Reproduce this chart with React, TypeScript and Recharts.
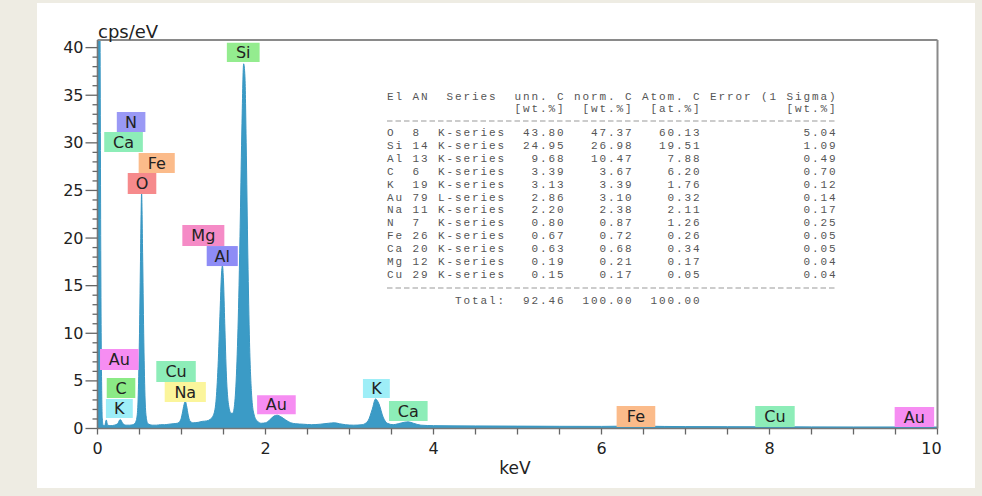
import React from 'react';
import { AreaChart, Area, XAxis, YAxis, ReferenceArea, ReferenceLine } from 'recharts';

// ---- spectrum ----
const energyKeV = [
  0.0, 0.015, 0.03, 0.04, 0.05, 0.058, 0.066, 0.085, 0.105, 0.12, 0.16, 0.2, 0.24, 0.27, 0.3, 0.34,
  0.38, 0.42, 0.45, 0.47, 0.485, 0.5, 0.513, 0.525, 0.537, 0.55, 0.565, 0.58, 0.6, 0.65, 0.7, 0.75,
  0.8, 0.85, 0.9, 0.95, 0.99, 1.01, 1.03, 1.045, 1.06, 1.08, 1.1, 1.14, 1.2, 1.25, 1.3, 1.34,
  1.38, 1.41, 1.435, 1.46, 1.475, 1.487, 1.5, 1.515, 1.535, 1.56, 1.59, 1.61, 1.635, 1.66, 1.685, 1.7,
  1.72, 1.74, 1.755, 1.77, 1.79, 1.81, 1.835, 1.86, 1.9, 1.95, 2.0, 2.05, 2.1, 2.14, 2.18, 2.24,
  2.3, 2.36, 2.45, 2.55, 2.65, 2.75, 2.82, 2.88, 2.95, 3.05, 3.15, 3.22, 3.27, 3.31, 3.35, 3.4,
  3.45, 3.52, 3.58, 3.65, 3.7, 3.76, 3.85, 4.0, 4.5, 5.0, 5.5, 6.0, 6.3, 6.4, 6.5, 7.0,
  7.5, 8.0, 8.5, 9.0, 9.6, 9.7, 9.8, 10.0,
];
const countsCps = [
  60, 55, 42, 16, 4, 1, 0.35, 0.3, 0.9, 0.35, 0.3, 0.35, 0.5, 0.95, 0.55, 0.35,
  0.35, 0.4, 0.6, 1.2, 3.5, 10, 18.5, 24.7, 18.5, 10, 3.5, 1.2, 0.5, 0.35, 0.35, 0.4,
  0.4, 0.45, 0.5, 0.55, 0.9, 1.6, 2.5, 2.85, 2.4, 1.4, 0.8, 0.6, 0.65, 0.75, 0.8, 0.95,
  1.4, 2.8, 6.5, 12.5, 16, 17.1, 15.5, 11, 5.5, 2.5, 1.6, 1.6, 2.8, 7, 15, 22,
  32, 38.3, 37, 30, 18, 9, 3.5, 1.6, 0.8, 0.55, 0.6, 0.9, 1.3, 1.4, 1.25, 0.9,
  0.6, 0.5, 0.45, 0.4, 0.45, 0.55, 0.6, 0.5, 0.4, 0.35, 0.4, 0.8, 2.0, 3.1, 2.6, 1.2,
  0.55, 0.4, 0.5, 0.65, 0.7, 0.55, 0.35, 0.3, 0.27, 0.25, 0.23, 0.22, 0.25, 0.35, 0.25, 0.2,
  0.19, 0.18, 0.17, 0.16, 0.16, 0.22, 0.16, 0.15,
];

const xTicks = [0, 0.5, 1, 1.5, 2, 2.5, 3, 3.5, 4, 4.5, 5, 5.5, 6, 6.5, 7, 7.5, 8, 8.5, 9, 9.5, 10];
const yTicks = [
  0, 1, 2, 3, 4, 5, 6, 7, 8, 9, 10, 11, 12, 13, 14, 15, 16, 17, 18, 19, 20,
  21, 22, 23, 24, 25, 26, 27, 28, 29, 30, 31, 32, 33, 34, 35, 36, 37, 38, 39, 40,
];
const Y_MAX = 40.8;
const X_MAX = 10;

// ---- element labels (keV / cps boxes) ----
const labelNames = ['Si', 'N', 'Ca', 'Fe', 'O', 'Mg', 'Al', 'Au', 'C', 'K', 'Cu', 'Na', 'Au', 'K', 'Ca', 'Fe', 'Cu', 'Au'];
const labelX1 = [1.54, 0.23, 0.08, 0.49, 0.36, 1.01, 1.3, 0.03, 0.11, 0.1, 0.7, 0.8, 1.9, 3.16, 3.47, 6.18, 7.83, 9.49];
const labelX2 = [1.93, 0.57, 0.54, 0.92, 0.7, 1.51, 1.67, 0.49, 0.45, 0.42, 1.17, 1.29, 2.36, 3.48, 3.93, 6.64, 8.3, 9.96];
const labelY1 = [38.5, 31.13, 29.03, 26.82, 24.62, 19.16, 17.06, 6.14, 3.2, 1.1, 4.88, 2.78, 1.5, 3.2, 0.8, 0.16, 0.16, 0.16];
const labelY2 = [40.5, 33.23, 31.13, 28.92, 26.82, 21.36, 19.16, 8.35, 5.3, 3.1, 7.09, 4.88, 3.5, 5.2, 2.9, 2.36, 2.36, 2.26];
const elementColor: Record<string, string> = {
  Si: '#94EC8F', N: '#9A99F5', Ca: '#8DEDB8', Fe: '#FBBB8A', O: '#F68A8C', Mg: '#F58BC6',
  Al: '#8E8CF6', Au: '#F68DF2', C: '#8BEA86', K: '#9EEEF7', Cu: '#8DEDB8', Na: '#FBF59B',
};

// ---- quantification table ----
const tableEl = ['O', 'Si', 'Al', 'C', 'K', 'Au', 'Na', 'N', 'Fe', 'Ca', 'Mg', 'Cu'];
const tableAN = ['8', '14', '13', '6', '19', '79', '11', '7', '26', '20', '12', '29'];
const tableSeries = ['K-series', 'K-series', 'K-series', 'K-series', 'K-series', 'L-series', 'K-series', 'K-series', 'K-series', 'K-series', 'K-series', 'K-series'];
const tableUnn = ['43.80', '24.95', '9.68', '3.39', '3.13', '2.86', '2.20', '0.80', '0.67', '0.63', '0.19', '0.15'];
const tableNorm = ['47.37', '26.98', '10.47', '3.67', '3.39', '3.10', '2.38', '0.87', '0.72', '0.68', '0.21', '0.17'];
const tableAtom = ['60.13', '19.51', '7.88', '6.20', '1.76', '0.32', '2.11', '1.26', '0.26', '0.34', '0.17', '0.05'];
const tableErr = ['5.04', '1.09', '0.49', '0.70', '0.12', '0.14', '0.17', '0.25', '0.05', '0.05', '0.04', '0.04'];
const tableTotals = ['92.46', '100.00', '100.00'];

const data = energyKeV.map((e, i) => ({ keV: e, cps: countsCps[i] }));

const FONT = "'DejaVu Sans', Verdana, sans-serif";
const MONO = "'Liberation Mono', 'DejaVu Sans Mono', monospace";

const YTick = (props: any) => {
  const { x, y, payload } = props;
  const v = payload.value;
  const major = v % 5 === 0;
  return (
    <g>
      <line x1={x} x2={x - (major ? 12 : 5)} y1={y} y2={y} stroke="#666" strokeWidth={1.3} />
      {major && (
        <text x={x - 14} y={y} textAnchor="end" dominantBaseline="central" fontSize={16} fill="#222" fontFamily={FONT}>
          {v}
        </text>
      )}
    </g>
  );
};

const XTick = (props: any) => {
  const { x, y, payload } = props;
  const v = payload.value;
  const labeled = Math.abs(v % 2) < 1e-9;
  const last = v === X_MAX;
  return (
    <g>
      <line x1={x} x2={x} y1={y} y2={y + 6} stroke="#666" strokeWidth={1.3} />
      {labeled && (
        <text x={last ? x - 6 : x} y={y + 19.5} textAnchor="middle" dominantBaseline="central" fontSize={16} fill="#222" fontFamily={FONT}>
          {v}
        </text>
      )}
    </g>
  );
};

// monospace grid helpers
const padL = (s: string, n: number) => (s.length >= n ? s : ' '.repeat(n - s.length) + s);
const padR = (s: string, n: number) => (s.length >= n ? s : s + ' '.repeat(n - s.length));

const headerLine = 'El AN  Series  unn. C norm. C Atom. C Error (1 Sigma)';
const unitLine = padL('[wt.%]', 21) + padL('[wt.%]', 8) + padL('[at.%]', 8) + padL('[wt.%]', 16);
const rowLines = tableEl.map(
  (el, i) =>
    padR(el, 3) + padR(tableAN[i], 3) + padR(tableSeries[i], 8) +
    padL(tableUnn[i], 7) + padL(tableNorm[i], 8) + padL(tableAtom[i], 8) + padL(tableErr[i], 16)
);
const totalLine = padL('Total:', 14) + padL(tableTotals[0], 7) + padL(tableTotals[1], 8) + padL(tableTotals[2], 8);

const TX = 387;
const monoStyle: React.CSSProperties = { whiteSpace: 'pre', letterSpacing: '1.9px' };

export default function App() {
  return (
    <div style={{ position: 'fixed', left: 0, top: 0, width: 982, height: 496, background: '#EEECE3', overflow: 'hidden' }}>
      <div style={{ position: 'absolute', left: 37, top: 3, width: 938, height: 485, background: '#FFFFFF' }} />
      <div style={{ position: 'absolute', left: 0, top: 0 }}>
        <AreaChart width={982} height={496} data={data} margin={{ top: 40, right: 44.5, bottom: 37.5, left: 0 }}>
          <XAxis
            dataKey="keV"
            type="number"
            domain={[0, X_MAX]}
            ticks={xTicks}
            interval={0}
            height={30}
            tickSize={0}
            tickMargin={0}
            tickLine={false}
            tick={<XTick />}
            axisLine={{ stroke: '#777', strokeWidth: 1.6 }}
          />
          <YAxis
            type="number"
            domain={[0, Y_MAX]}
            allowDataOverflow
            ticks={yTicks}
            interval={0}
            width={97.5}
            tickSize={0}
            tickMargin={0}
            tickLine={false}
            tick={<YTick />}
            axisLine={{ stroke: '#777', strokeWidth: 1.6 }}
          />
          <ReferenceLine y={Y_MAX} stroke="#8a8a8a" strokeWidth={2} />
          <ReferenceLine x={X_MAX} stroke="#8a8a8a" strokeWidth={2} />
          <Area
            type="monotone"
            dataKey="cps"
            stroke="#3A97C2"
            strokeWidth={1}
            fill="#3B9BC6"
            fillOpacity={1}
            baseValue={0}
            dot={false}
            activeDot={false}
            isAnimationActive={false}
          />
          {labelNames.map((n, i) => (
            <ReferenceArea
              key={i}
              x1={labelX1[i]}
              x2={labelX2[i]}
              y1={labelY1[i]}
              y2={labelY2[i]}
              fill={elementColor[n]}
              fillOpacity={1}
              stroke="none"
              ifOverflow="visible"
              label={{ value: n, position: 'center', fill: '#222', fontSize: 16, fontFamily: FONT }}
            />
          ))}
        </AreaChart>
      </div>
      <svg width={982} height={496} style={{ position: 'absolute', left: 0, top: 0, pointerEvents: 'none' }}>
        <text x={98} y={31} dominantBaseline="central" fontSize={18} fill="#222" fontFamily={FONT}>cps/eV</text>
        <text x={515} y={468} textAnchor="middle" dominantBaseline="central" fontSize={17} fill="#222" fontFamily={FONT}>keV</text>
        <g fontFamily={MONO} fontSize={11} fill="#555">
          <text x={TX} y={97} dominantBaseline="central" style={monoStyle}>{headerLine}</text>
          <text x={TX} y={109} dominantBaseline="central" style={monoStyle}>{unitLine}</text>
          <line x1={TX} x2={835} y1={121} y2={121} stroke="#999" strokeWidth={1} strokeDasharray="5.5 3" />
          {rowLines.map((l, i) => (
            <text key={i} x={TX} y={133 + i * 12.9} dominantBaseline="central" style={monoStyle}>{l}</text>
          ))}
          <line x1={TX} x2={835} y1={288} y2={288} stroke="#999" strokeWidth={1} strokeDasharray="5.5 3" />
          <text x={TX} y={301} dominantBaseline="central" style={monoStyle}>{totalLine}</text>
        </g>
      </svg>
    </div>
  );
}
